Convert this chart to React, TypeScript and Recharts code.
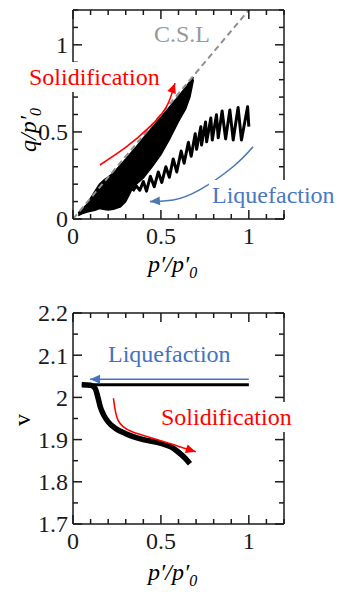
import React from 'react';
import { ComposedChart, Line, Area, XAxis, YAxis } from 'recharts';

// ticks (all ticks, and the ones that get a number)
const pTicks = [0, 0.1, 0.2, 0.3, 0.4, 0.5, 0.6, 0.7, 0.8, 0.9, 1, 1.1, 1.2];
const pLabels = [0, 0.5, 1];
const qTicks = [0, 0.1, 0.2, 0.3, 0.4, 0.5, 0.6, 0.7, 0.8, 0.9, 1, 1.1, 1.2];
const qLabels = [0, 0.5, 1];
const vTicks = [1.7, 1.75, 1.8, 1.85, 1.9, 1.95, 2, 2.05, 2.1, 2.15, 2.2];
const vLabels = [1.7, 1.8, 1.9, 2, 2.1, 2.2];

// critical state line q = 1.2 p'
const cslP = [0, 1];
const cslQ = [0, 1.2];

// liquefaction stress path (cyclic, from p'=1 down)
const liqP = [1.0, 0.993, 0.958, 0.939, 0.911, 0.892, 0.868, 0.848, 0.826, 0.816, 0.792, 0.784, 0.76, 0.754, 0.731, 0.727, 0.703, 0.695, 0.672, 0.656, 0.632, 0.615, 0.59, 0.57, 0.548, 0.528, 0.505, 0.485, 0.462, 0.44, 0.418, 0.4, 0.38, 0.36, 0.34];
const liqQ = [0.53, 0.645, 0.454, 0.64, 0.454, 0.626, 0.46, 0.62, 0.466, 0.598, 0.454, 0.58, 0.443, 0.557, 0.425, 0.529, 0.4, 0.49, 0.36, 0.44, 0.32, 0.39, 0.27, 0.345, 0.24, 0.3, 0.21, 0.27, 0.185, 0.245, 0.16, 0.215, 0.165, 0.19, 0.16];

// solidification band (envelope of the cycles)
const bandP = [0.03, 0.05, 0.08, 0.1, 0.125, 0.15, 0.18, 0.2, 0.23, 0.27, 0.3, 0.33, 0.36, 0.4, 0.45, 0.5, 0.55, 0.6, 0.64, 0.665, 0.685];
const bandLo = [0.02, 0.03, 0.04, 0.045, 0.05, 0.06, 0.055, 0.052, 0.056, 0.07, 0.1, 0.16, 0.2, 0.235, 0.3, 0.37, 0.46, 0.56, 0.63, 0.7, 0.8];
const bandHi = [0.035, 0.055, 0.085, 0.12, 0.16, 0.2, 0.228, 0.24, 0.265, 0.31, 0.345, 0.38, 0.415, 0.465, 0.525, 0.585, 0.645, 0.705, 0.755, 0.79, 0.815];

// annotation arrows, upper plot
const solArrowP = [0.153, 0.305, 0.4375, 0.532, 0.58];
const solArrowQ = [0.31, 0.415, 0.53, 0.645, 0.78];
const liqArrowP = [1.024, 0.91, 0.72, 0.57, 0.4375];
const liqArrowQ = [0.415, 0.3, 0.167, 0.109, 0.1];

// specific volume, lower plot
const liqVP = [0.05, 1.0];
const liqV = [2.03, 2.03];
const solVP = [0.05, 0.1, 0.125, 0.14, 0.155, 0.175, 0.2, 0.24, 0.3, 0.4, 0.5, 0.56, 0.6, 0.64, 0.665];
const solV = [2.03, 2.029, 2.022, 2.003, 1.978, 1.958, 1.942, 1.927, 1.914, 1.9, 1.891, 1.882, 1.87, 1.855, 1.843];
const vLiqArrowP = [1.0, 0.097];
const vLiqArrowV = [2.043, 2.043];
const vSolArrowP = [0.23, 0.256, 0.333, 0.485, 0.698];
const vSolArrowV = [1.998, 1.946, 1.919, 1.899, 1.871];

const rows = (xs: number[], ys: number[], k = 'y') => xs.map((x, i) => ({ x, [k]: ys[i] }));
const bandRows = bandP.map((x, i) => ({ x, lo: bandLo[i], hi: bandHi[i] }));

const FONT = "'Liberation Serif', 'Times New Roman', serif";
const INK = '#1a1a1a';
const near = (a: number, b: number) => Math.abs(a - b) < 1e-6;
const fmt = (v: number) => String(Math.round(v * 100) / 100);

const makeTick = (side: 'bottom' | 'top' | 'left' | 'right', labels: number[]) => (props: any) => {
  const { x, y, payload } = props;
  const v = payload.value;
  const major = labels.some(l => near(l, v));
  const len = major ? 9 : 5;
  let x2 = x;
  let y2 = y;
  if (side === 'bottom') y2 = y - len;
  if (side === 'top') y2 = y + len;
  if (side === 'left') x2 = x + len;
  if (side === 'right') x2 = x - len;
  return (
    <g>
      <line x1={x} y1={y} x2={x2} y2={y2} stroke={INK} strokeWidth={1.5} />
      {major && side === 'bottom' && (
        <text x={x} y={y + 25} textAnchor="middle" fontSize={24} fontFamily={FONT} fill={INK}>
          {fmt(v)}
        </text>
      )}
      {major && side === 'left' && (
        <text x={x - 5} y={y} dy="0.35em" textAnchor="end" fontSize={24} fontFamily={FONT} fill={INK}>
          {fmt(v)}
        </text>
      )}
    </g>
  );
};

const arrowHead = (last: number, angle: number, color: string, size = 10) => (props: any) => {
  const { cx, cy, index } = props;
  if (index !== last || cx == null) return <g key={index} />;
  return (
    <polygon
      key={index}
      points={`0,0 ${-size},${-size * 0.45} ${-size},${size * 0.45}`}
      fill={color}
      transform={`translate(${cx},${cy}) rotate(${angle})`}
    />
  );
};

const axisLine = { stroke: INK, strokeWidth: 1.5 };

function Note({ x, baseline, color, children, bg }: any) {
  return (
    <div
      style={{
        position: 'absolute',
        left: x - 3,
        top: baseline - 23,
        height: 30,
        lineHeight: '30px',
        padding: '0 3px',
        fontFamily: FONT,
        fontSize: 24,
        color,
        background: bg ? '#fff' : 'transparent',
        whiteSpace: 'nowrap',
        zIndex: 2,
      }}
    >
      {children}
    </div>
  );
}

const Prime = () => <span>′</span>;
const PTitle = () => (
  <i>
    p<Prime />/p<Prime />
    <sub style={{ fontSize: 16 }}>0</sub>
  </i>
);

export default function App() {
  const xAxes = [
    <XAxis key="b" xAxisId="b" type="number" dataKey="x" domain={[0, 1.2]} ticks={pTicks} interval={0} height={1}
      tickSize={0} tickMargin={0} tickLine={false} axisLine={axisLine} tick={makeTick('bottom', pLabels)} allowDataOverflow />,
    <XAxis key="t" xAxisId="t" orientation="top" type="number" dataKey="x" domain={[0, 1.2]} ticks={pTicks} interval={0} height={1}
      tickSize={0} tickMargin={0} tickLine={false} axisLine={axisLine} tick={makeTick('top', pLabels)} allowDataOverflow />,
  ];

  return (
    <div style={{ position: 'relative', width: 339, height: 592, background: '#fff', fontFamily: FONT }}>
      <style>{'body{margin:0}'}</style>

      {/* upper plot: q/p'0 vs p'/p'0 */}
      <div style={{ position: 'absolute', left: 0, top: 0 }}>
        <ComposedChart width={339} height={290} margin={{ top: 9, right: 54, bottom: 70, left: 72 }}>
          {xAxes}
          <YAxis yAxisId="l" type="number" domain={[0, 1.2]} ticks={qTicks} interval={0} width={1}
            tickSize={0} tickMargin={0} tickLine={false} axisLine={axisLine} tick={makeTick('left', qLabels)} allowDataOverflow />
          <YAxis yAxisId="r" orientation="right" type="number" domain={[0, 1.2]} ticks={qTicks} interval={0} width={1}
            tickSize={0} tickMargin={0} tickLine={false} axisLine={axisLine} tick={makeTick('right', qLabels)} allowDataOverflow />
          <Area xAxisId="b" yAxisId="l" data={bandRows} dataKey={(d: any) => [d.lo, d.hi]} type="linear"
            fill="#000" fillOpacity={1} stroke="#000" strokeWidth={1.5} isAnimationActive={false} />
          <Line xAxisId="b" yAxisId="l" data={rows(liqP, liqQ)} dataKey="y" type="linear" stroke="#000"
            strokeWidth={3} strokeLinejoin="round" dot={false} isAnimationActive={false} />
          <Line xAxisId="b" yAxisId="l" data={rows(cslP, cslQ)} dataKey="y" type="linear" stroke="#8f8f8f"
            strokeWidth={2} strokeDasharray="6 4" dot={false} isAnimationActive={false} />
          <Line xAxisId="b" yAxisId="l" data={rows(solArrowP, solArrowQ)} dataKey="y" type="natural" stroke="#ff0000"
            strokeWidth={1.6} dot={arrowHead(solArrowP.length - 1, -70, '#ff0000')} isAnimationActive={false} />
          <Line xAxisId="b" yAxisId="l" data={rows(liqArrowP, liqArrowQ)} dataKey="y" type="natural" stroke="#4a7ab0"
            strokeWidth={1.6} dot={arrowHead(liqArrowP.length - 1, 176, '#4a7ab0')} isAnimationActive={false} />
        </ComposedChart>
      </div>

      <Note x={154} baseline={42} color="#999">C.S.L</Note>
      <Note x={29} baseline={85} color="#ff0000" bg>Solidification</Note>
      <Note x={212} baseline={203} color="#4a78c0" bg>Liquefaction</Note>
      <div style={{ position: 'absolute', left: 148, top: 249, fontSize: 24, lineHeight: '30px' }}>
        <PTitle />
      </div>
      <div style={{ position: 'absolute', left: 32, top: 130, fontSize: 24, lineHeight: '30px', whiteSpace: 'nowrap',
        transform: 'translate(-50%, -50%) rotate(-90deg)' }}>
        <i>q/p<Prime /><sub style={{ fontSize: 16 }}>0</sub></i>
      </div>

      {/* lower plot: v vs p'/p'0 */}
      <div style={{ position: 'absolute', left: 0, top: 290 }}>
        <ComposedChart width={339} height={302} margin={{ top: 22, right: 54, bottom: 67, left: 72 }}>
          {xAxes}
          <YAxis yAxisId="l" type="number" domain={[1.7, 2.2]} ticks={vTicks} interval={0} width={1}
            tickSize={0} tickMargin={0} tickLine={false} axisLine={axisLine} tick={makeTick('left', vLabels)} allowDataOverflow />
          <YAxis yAxisId="r" orientation="right" type="number" domain={[1.7, 2.2]} ticks={vTicks} interval={0} width={1}
            tickSize={0} tickMargin={0} tickLine={false} axisLine={axisLine} tick={makeTick('right', vLabels)} allowDataOverflow />
          <Line xAxisId="b" yAxisId="l" data={rows(liqVP, liqV)} dataKey="y" type="linear" stroke="#000"
            strokeWidth={3.2} dot={false} isAnimationActive={false} />
          <Line xAxisId="b" yAxisId="l" data={rows(solVP, solV)} dataKey="y" type="monotone" stroke="#000"
            strokeWidth={5.5} dot={false} isAnimationActive={false} />
          <Line xAxisId="b" yAxisId="l" data={rows(vLiqArrowP, vLiqArrowV)} dataKey="y" type="linear" stroke="#4472c4"
            strokeWidth={1.6} dot={arrowHead(vLiqArrowP.length - 1, 180, '#4472c4')} isAnimationActive={false} />
          <Line xAxisId="b" yAxisId="l" data={rows(vSolArrowP, vSolArrowV)} dataKey="y" type="natural" stroke="#ff0000"
            strokeWidth={1.6} dot={arrowHead(vSolArrowP.length - 1, 18, '#ff0000')} isAnimationActive={false} />
        </ComposedChart>
      </div>

      <Note x={108} baseline={362} color="#4472c4">Liquefaction</Note>
      <Note x={161} baseline={425} color="#ff0000" bg>Solidification</Note>
      <div style={{ position: 'absolute', left: 148, top: 557, fontSize: 24, lineHeight: '30px' }}>
        <PTitle />
      </div>
      <div style={{ position: 'absolute', left: 22, top: 420, fontSize: 24, lineHeight: '30px',
        transform: 'translate(-50%, -50%) rotate(-90deg)' }}>
        v
      </div>
    </div>
  );
}
